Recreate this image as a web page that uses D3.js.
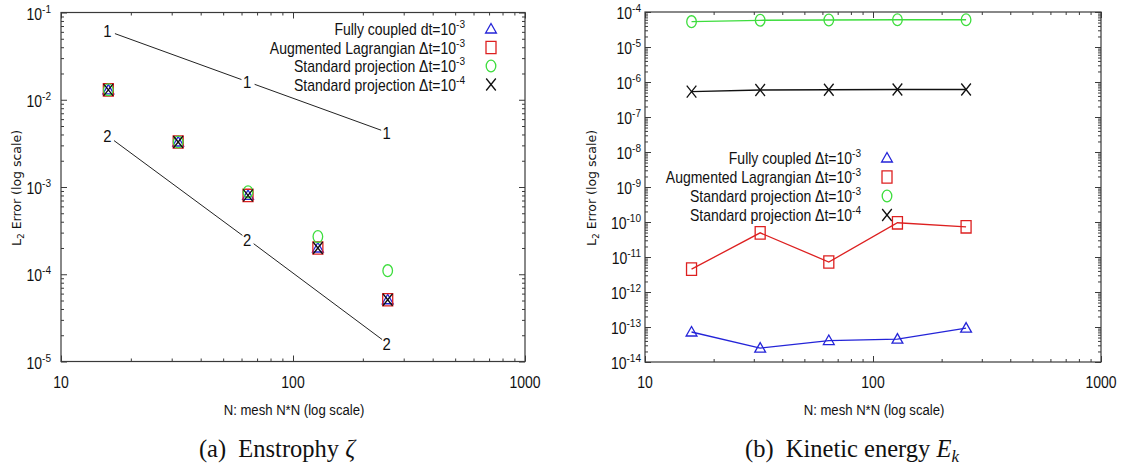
<!DOCTYPE html>
<html><head><meta charset="utf-8">
<script src="https://cdn.jsdelivr.net/npm/d3@7"></script>
<style>
html,body{margin:0;padding:0;background:#fff;}
svg{display:block;}
</style></head>
<body>
<svg id="chart" width="1122" height="469"></svg>
<script>
// ---------- data ----------
const meshN = [16, 32, 64, 128, 256];
const xTickValues = [10, 100, 1000];

// (a) Enstrophy
const enstFully   = [0.013, 0.00328, 8.0e-4, 2.0e-4, 5.1e-5];
const enstAugLag  = [0.013, 0.00328, 8.0e-4, 2.0e-4, 5.1e-5];
const enstProj3   = [0.013, 0.00328, 8.8e-4, 2.7e-4, 1.1e-4];
const enstProj4   = [0.013, 0.00328, 8.0e-4, 2.0e-4, 5.1e-5];
const refSlopeX   = [16, 64, 256];
const refSlope1   = [0.061, 0.016, 0.0042];
const refSlope2   = [0.0038, 2.5e-4, 1.6e-5];
const enstYTicks  = [-1, -2, -3, -4, -5];

// (b) Kinetic energy
const keFully  = [7.2e-14, 2.5e-14, 4.1e-14, 4.5e-14, 9.3e-14];
const keAugLag = [4.5e-12, 4.9e-11, 7.2e-12, 9.5e-11, 7.3e-11];
const keProj3  = [5.3e-5, 5.8e-5, 5.9e-5, 6.0e-5, 6.0e-5];
const keProj4  = [5.3e-7, 5.9e-7, 6.0e-7, 6.1e-7, 6.1e-7];
const keYTicks = [-4, -5, -6, -7, -8, -9, -10, -11, -12, -13, -14];

const legendLabelsA = ["Fully coupled dt=10", "Augmented Lagrangian \u0394t=10", "Standard projection \u0394t=10", "Standard projection \u0394t=10"];
const legendLabelsB = ["Fully coupled \u0394t=10", "Augmented Lagrangian \u0394t=10", "Standard projection \u0394t=10", "Standard projection \u0394t=10"];
const legendExp = ["-3", "-3", "-3", "-4"];
const seriesColors = ["#2424d8", "#dd2020", "#3ddd3d", "#111111"];
const seriesShapes = ["triangle", "square", "circle", "cross"];

// ---------- drawing ----------
const svg = d3.select("#chart");
const SANS = "'Liberation Sans', Arial, sans-serif";
const AXC = "#3a3a3a";
const SX = 0.875; // horizontal squeeze of the original figure's text

function sText(parent, x, y, size, anchor) {
  return parent.append("g").attr("transform", `translate(${x},${y}) scale(${SX},1)`)
    .append("text").attr("x", 0).attr("y", 0).attr("text-anchor", anchor)
    .attr("font-family", SANS).attr("font-size", size).attr("fill", "#111");
}

function minorTicks(lo, hi) {
  const out = [];
  for (let e = lo; e < hi; e++) for (let k = 2; k <= 9; k++) out.push(k * Math.pow(10, e));
  return out;
}

function markerPath(shape) {
  if (shape === "triangle") return "M0,-5.5L5.4,4L-5.4,4Z";
  if (shape === "square") return "M-5,-6.2H5V6.2H-5Z";
  if (shape === "circle") return "M-4.8,0A4.8,5.9 0 1,0 4.8,0A4.8,5.9 0 1,0 -4.8,0Z";
  return "M-4.8,-6L4.8,6M-4.8,6L4.8,-6";
}

function panel(cfg) {
  const g = svg.append("g");
  const x = d3.scaleLog().domain([10, 1000]).range([cfg.x0, cfg.x1]);
  const y = d3.scaleLog().domain(cfg.yDomain).range([cfg.y1, cfg.y0]);
  const majX = xTickValues;
  const minX = minorTicks(1, 3);
  const majY = cfg.yTicks.map(e => Math.pow(10, e));
  const eLo = d3.min(cfg.yTicks), eHi = d3.max(cfg.yTicks);
  const minY = minorTicks(eLo, eHi);

  const axes = [
    [d3.axisBottom(x), `translate(0,${cfg.y1})`, majX, minX],
    [d3.axisTop(x), `translate(0,${cfg.y0})`, majX, minX],
    [d3.axisLeft(y), `translate(${cfg.x0},0)`, majY, minY],
    [d3.axisRight(y), `translate(${cfg.x1},0)`, majY, minY]
  ];
  axes.forEach(([ax, tr, maj, mn]) => {
    const a1 = g.append("g").attr("transform", tr)
      .call(ax.tickValues(maj).tickSize(-6).tickFormat(""));
    const a2 = g.append("g").attr("transform", tr)
      .call(ax.tickValues(mn).tickSize(-3).tickFormat(""));
    [a1, a2].forEach(a => {
      a.select(".domain").remove();
      a.selectAll("line").attr("stroke", AXC).attr("stroke-width", 1);
    });
  });
  g.append("rect").attr("x", cfg.x0).attr("y", cfg.y0)
    .attr("width", cfg.x1 - cfg.x0).attr("height", cfg.y1 - cfg.y0)
    .attr("fill", "none").attr("stroke", AXC).attr("stroke-width", 1.2);

  // x tick labels
  majX.forEach(v => {
    sText(g, x(v), cfg.y1 + 26, 16, "middle").text(v);
  });
  // y tick labels
  cfg.yTicks.forEach(e => {
    const t = sText(g, cfg.yLabelRight, y(Math.pow(10, e)) + 7, 16, "end");
    t.append("tspan").text("10");
    t.append("tspan").attr("dy", "-7").attr("font-size", 11.5).text(String(e));
  });

  // axis titles
  sText(g, (cfg.x0 + cfg.x1) / 2 + 1, 415, 15, "middle").text("N: mesh N*N (log scale)");
  const yl = g.append("text")
    .attr("transform", `translate(${cfg.yTitleX},${(cfg.y0 + cfg.y1) / 2 + 1}) rotate(-90)`)
    .attr("text-anchor", "middle").attr("font-family", "'DejaVu Sans', sans-serif")
    .attr("font-size", 12.5).attr("fill", "#111");
  yl.append("tspan").text("L");
  yl.append("tspan").attr("dy", 3).attr("font-size", 9).text("2");
  yl.append("tspan").attr("dy", -3).text(" Error (log scale)");

  // caption
  const cap = g.append("text").attr("x", cfg.capX).attr("y", 457)
    .attr("text-anchor", "middle").attr("font-family", "'Liberation Serif', 'DejaVu Serif', serif")
    .attr("font-size", 24.5).attr("fill", "#111");
  cap.append("tspan").text(cfg.capTag);
  cfg.capParts.forEach(p => {
    const ts = cap.append("tspan").text(p.t);
    if (p.italic) ts.attr("font-style", "italic");
    if (p.sub) ts.attr("dy", 5).attr("font-size", 17);
  });

  // legend
  cfg.legendLabels.forEach((lab, i) => {
    const ly = cfg.legendY[i];
    const t = sText(g, cfg.legendTextX, ly + 6, 16, "end");
    t.append("tspan").text(lab);
    t.append("tspan").attr("dy", -7).attr("font-size", 11.5).text(legendExp[i]);
    g.append("path").attr("transform", `translate(${cfg.legendMarkX},${ly})`)
      .attr("d", markerPath(seriesShapes[i])).attr("fill", "none")
      .attr("stroke", seriesColors[i]).attr("stroke-width", 1.3);
  });

  return { g, x, y };
}

// ----- panel (a)
const A = panel({
  x0: 61, x1: 525, y0: 12.5, y1: 361.5, yDomain: [1e-5, 1e-1], yTicks: enstYTicks,
  yLabelRight: 51, yTitleX: 21, capX: 277, capTag: "(a)\u2002", capParts: [{ t: "Enstrophy " }, { t: "\u03B6", italic: true }],
  legendLabels: legendLabelsA, legendY: [29, 47.5, 66, 84.5], legendTextX: 465, legendMarkX: 491
});

// reference slope lines with gaps around labels
function slopeLine(P, vals, lab) {
  const pts = refSlopeX.map((n, i) => [P.x(n), P.y(vals[i])]);
  for (let i = 0; i < pts.length - 1; i++) {
    const [ax, ay] = pts[i], [bx, by] = pts[i + 1];
    const L = Math.hypot(bx - ax, by - ay), ux = (bx - ax) / L, uy = (by - ay) / L, gap = 7;
    P.g.append("line").attr("x1", ax + ux * gap).attr("y1", ay + uy * gap)
      .attr("x2", bx - ux * gap).attr("y2", by - uy * gap)
      .attr("stroke", "#222").attr("stroke-width", 1);
  }
  pts.forEach(([px, py]) => {
    sText(P.g, px - 1, py + 6, 17, "middle").text(lab);
  });
}
slopeLine(A, refSlope1, "1");
slopeLine(A, refSlope2, "2");

[enstFully, enstAugLag, enstProj3, enstProj4].forEach((vals, si) => {
  A.g.append("g").selectAll("path").data(vals).join("path")
    .attr("transform", (v, i) => `translate(${A.x(meshN[i])},${A.y(v)})`)
    .attr("d", markerPath(seriesShapes[si])).attr("fill", "none")
    .attr("stroke", seriesColors[si]).attr("stroke-width", 1.3);
});

// ----- panel (b)
const B = panel({
  x0: 645, x1: 1101, y0: 12, y1: 362, yDomain: [1e-14, 1e-4], yTicks: keYTicks,
  yLabelRight: 641, yTitleX: 596, capX: 852, capTag: "(b)\u2002", capParts: [{ t: "Kinetic energy " }, { t: "E", italic: true }, { t: "k", italic: true, sub: true }],
  legendLabels: legendLabelsB, legendY: [158, 177, 196, 215], legendTextX: 861, legendMarkX: 887
});

const line = d3.line().x((v, i) => B.x(meshN[i])).y(v => B.y(v));
[keFully, keAugLag, keProj3, keProj4].forEach((vals, si) => {
  B.g.append("path").attr("d", line(vals)).attr("fill", "none")
    .attr("stroke", seriesColors[si]).attr("stroke-width", 1.3);
  B.g.append("g").selectAll("path").data(vals).join("path")
    .attr("transform", (v, i) => `translate(${B.x(meshN[i])},${B.y(v)})`)
    .attr("d", markerPath(seriesShapes[si])).attr("fill", "none")
    .attr("stroke", seriesColors[si]).attr("stroke-width", 1.3);
});
</script>
</body></html>
